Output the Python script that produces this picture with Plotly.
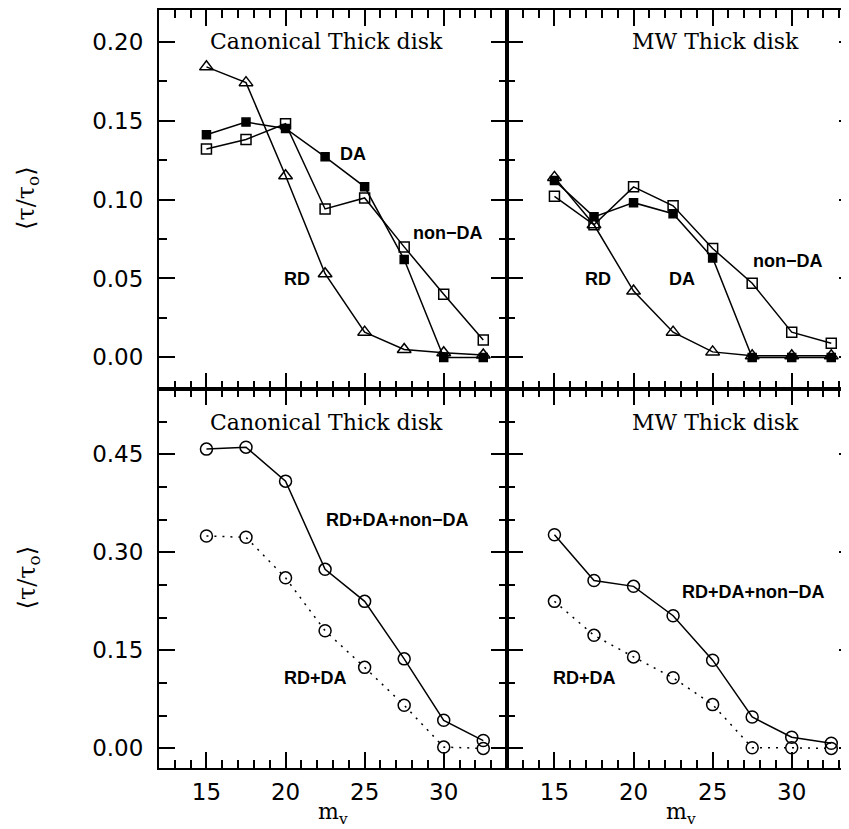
import plotly.graph_objects as go

# ---------------- data ----------------
mv = [15, 17.5, 20, 22.5, 25, 27.5, 30, 32.5]

# Canonical thick disk (top-left)
rd_can = [0.184, 0.174, 0.115, 0.053, 0.016, 0.005, 0.003, 0.0015]
da_can = [0.141, 0.149, 0.145, 0.127, 0.108, 0.062, 0.0, 0.0]
nonda_can = [0.132, 0.138, 0.148, 0.094, 0.101, 0.070, 0.040, 0.011]

# MW thick disk (top-right)
rd_mw = [0.114, 0.084, 0.042, 0.016, 0.0035, 0.001, 0.001, 0.001]
da_mw = [0.112, 0.089, 0.098, 0.091, 0.063, 0.0, 0.0, 0.0]
nonda_mw = [0.102, 0.084, 0.108, 0.096, 0.069, 0.047, 0.016, 0.009]

# Sums (bottom panels)
total_can = [0.458, 0.461, 0.409, 0.274, 0.225, 0.137, 0.043, 0.012]
rdda_can = [0.325, 0.323, 0.261, 0.180, 0.124, 0.066, 0.002, 0.0]
total_mw = [0.327, 0.257, 0.248, 0.203, 0.135, 0.048, 0.017, 0.008]
rdda_mw = [0.225, 0.173, 0.140, 0.108, 0.067, 0.001, 0.001, 0.0]

panel_titles = ["Canonical Thick disk", "MW Thick disk"]
ylabel = "⟨τ/τ<sub>o</sub>⟩"
xlabel = "m<sub>v</sub>"

# ---------------- figure ----------------
fig = go.Figure()
BLK = "black"
LW = 1.5


def add_line(x, y, xa, ya, symbol, msize, dash="solid"):
    fig.add_trace(go.Scatter(
        x=x, y=y, xaxis=xa, yaxis=ya, mode="lines+markers",
        line=dict(color=BLK, width=LW, dash=dash),
        marker=dict(symbol=symbol, size=msize, color=BLK,
                    line=dict(color=BLK, width=1.5)),
        showlegend=False, hoverinfo="skip"))


# top-left
add_line(mv, rd_can, "x", "y", "triangle-up-open", 12)
add_line(mv, nonda_can, "x", "y", "square-open", 10)
add_line(mv, da_can, "x", "y", "square", 8)
# top-right
add_line(mv, rd_mw, "x2", "y2", "triangle-up-open", 12)
add_line(mv, nonda_mw, "x2", "y2", "square-open", 10)
add_line(mv, da_mw, "x2", "y2", "square", 8)
# bottom-left
add_line(mv, total_can, "x3", "y3", "circle-open", 12)
add_line(mv, rdda_can, "x3", "y3", "circle-open", 12, dash="2px,6px")
# bottom-right
add_line(mv, total_mw, "x4", "y4", "circle-open", 12)
add_line(mv, rdda_mw, "x4", "y4", "circle-open", 12, dash="2px,6px")

tickfont = dict(family="DejaVu Sans", size=23, color=BLK)


def axis_style(**kw):
    d = dict(showline=True, linewidth=2, linecolor=BLK, mirror="ticks",
             ticks="inside", ticklen=16, tickwidth=1.5, tickcolor=BLK,
             showgrid=False, zeroline=False, tickfont=tickfont)
    d.update(kw)
    return d


x_range = [12, 34]
xminor = dict(ticks="inside", ticklen=8, tickwidth=1.5, tickcolor=BLK,
              dtick=1, tick0=0, showgrid=False)
ymin_top = dict(ticks="inside", ticklen=8, tickwidth=1.5, tickcolor=BLK,
                dtick=0.025, tick0=0, showgrid=False)
ymin_bot = dict(ticks="inside", ticklen=8, tickwidth=1.5, tickcolor=BLK,
                dtick=0.05, tick0=0, showgrid=False)

fig.update_layout(
    width=849, height=829,
    margin=dict(l=151, r=0, t=1, b=69),
    paper_bgcolor="white", plot_bgcolor="white",
    xaxis=axis_style(domain=[0, 0.5], range=x_range, anchor="y",
                     dtick=5, tick0=0, showticklabels=False, minor=xminor),
    xaxis2=axis_style(domain=[0.5, 1], range=x_range, anchor="y2",
                      dtick=5, tick0=0, showticklabels=False, minor=xminor),
    xaxis3=axis_style(domain=[0, 0.5], range=x_range, anchor="y3",
                      dtick=5, tick0=0, minor=xminor, ticklabelstandoff=2),
    xaxis4=axis_style(domain=[0.5, 1], range=x_range, anchor="y4",
                      dtick=5, tick0=0, minor=xminor, ticklabelstandoff=2),
    yaxis=axis_style(domain=[0.5, 1], range=[-0.02, 0.22], anchor="x",
                     dtick=0.05, tick0=0, tickformat=".2f", ticklabelstandoff=9,
                     minor=ymin_top),
    yaxis2=axis_style(domain=[0.5, 1], range=[-0.02, 0.22], anchor="x2",
                      dtick=0.05, tick0=0, showticklabels=False, minor=ymin_top),
    yaxis3=axis_style(domain=[0, 0.5], range=[-0.03, 0.55], anchor="x3",
                      dtick=0.15, tick0=0, tickformat=".2f", ticklabelstandoff=9,
                      minor=ymin_bot),
    yaxis4=axis_style(domain=[0, 0.5], range=[-0.03, 0.55], anchor="x4",
                      dtick=0.15, tick0=0, showticklabels=False, minor=ymin_bot),
)

title_font = dict(family="DejaVu Serif", size=22, color=BLK)
lab_font = dict(family="Liberation Sans", size=18, color=BLK)
axlab_font = dict(family="DejaVu Serif", size=24, color=BLK)
xlab_font = dict(family="DejaVu Serif", size=22, color=BLK)

annotations = [
    dict(text=panel_titles[0], x=22.6, y=0.20, xref="x", yref="y", font=title_font),
    dict(text=panel_titles[1], x=25.2, y=0.20, xref="x2", yref="y2", font=title_font),
    dict(text=panel_titles[0], x=22.6, y=0.499, xref="x3", yref="y3", font=title_font),
    dict(text=panel_titles[1], x=25.2, y=0.499, xref="x4", yref="y4", font=title_font),
    dict(text="<b>DA</b>", x=24.25, y=0.1287, xref="x", yref="y", font=lab_font),
    dict(text="<b>RD</b>", x=20.7, y=0.0498, xref="x", yref="y", font=lab_font),
    dict(text="<b>non−DA</b>", x=30.25, y=0.0789, xref="x", yref="y", font=lab_font),
    dict(text="<b>RD</b>", x=17.77, y=0.0498, xref="x2", yref="y2", font=lab_font),
    dict(text="<b>DA</b>", x=23.07, y=0.0498, xref="x2", yref="y2", font=lab_font),
    dict(text="<b>non−DA</b>", x=29.74, y=0.0612, xref="x2", yref="y2", font=lab_font),
    dict(text="<b>RD+DA+non−DA</b>", x=27.09, y=0.349, xref="x3", yref="y3", font=lab_font),
    dict(text="<b>RD+DA</b>", x=21.9, y=0.107, xref="x3", yref="y3", font=lab_font),
    dict(text="<b>RD+DA+non−DA</b>", x=27.57, y=0.239, xref="x4", yref="y4", font=lab_font),
    dict(text="<b>RD+DA</b>", x=16.9, y=0.107, xref="x4", yref="y4", font=lab_font),
    # axis labels (paper coordinates are relative to the plotting area)
    dict(text=ylabel, x=-0.188, y=0.7523, xref="paper", yref="paper",
         textangle=-90, font=axlab_font),
    dict(text=ylabel, x=-0.188, y=0.2516, xref="paper", yref="paper",
         textangle=-90, font=axlab_font),
    dict(text=xlabel, x=23, y=-0.060, xref="x3", yref="paper", font=xlab_font),
    dict(text=xlabel, x=23, y=-0.060, xref="x4", yref="paper", font=xlab_font),
]
for a in annotations:
    a.setdefault("showarrow", False)
    a.setdefault("xanchor", "center")
    a.setdefault("yanchor", "middle")
fig.update_layout(annotations=annotations)

fig.write_html("out.html")
